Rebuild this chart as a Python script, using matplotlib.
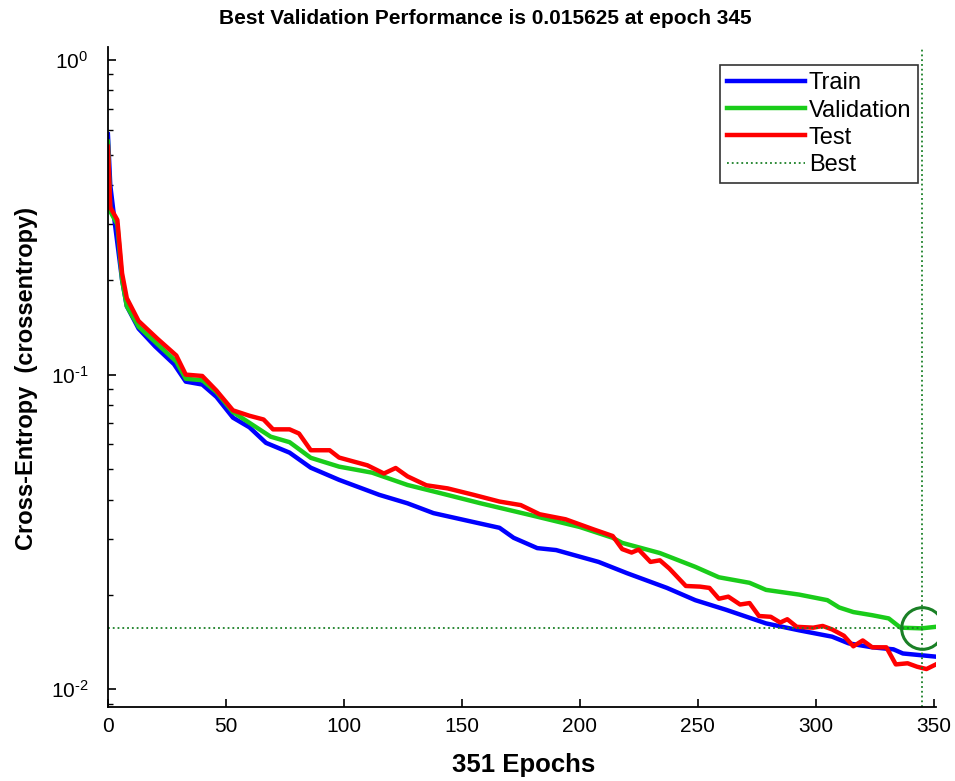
import numpy as np
import matplotlib.pyplot as plt
from matplotlib.ticker import FixedLocator, LogLocator, NullFormatter

# Datos
train_ep = [0, 1, 3, 6, 8, 13, 20, 28, 33, 40, 46, 53, 60, 67, 77, 86, 98, 115, 127, 138, 155,
            166, 172, 182, 190, 208, 220, 237, 249, 262, 279, 293, 307, 314, 324, 333, 337, 351]
train_val = [0.58, 0.40, 0.30, 0.20, 0.165, 0.140, 0.123, 0.108, 0.095, 0.093, 0.085, 0.073, 0.068,
             0.0607, 0.0565, 0.0506, 0.0463, 0.0415, 0.039, 0.0363, 0.034, 0.0326, 0.0303, 0.0281,
             0.0277, 0.0254, 0.0234, 0.021, 0.0192, 0.0179, 0.0162, 0.0154, 0.0147, 0.014, 0.0136,
             0.0134, 0.013, 0.0127]

val_ep = [0, 1, 4, 6, 8, 13, 21, 29, 33, 40, 46, 53, 56, 69, 77, 86, 98, 112, 127, 141, 158, 179,
          200, 214, 218, 234, 249, 259, 272, 279, 293, 305, 310, 316, 324, 331, 336, 345, 351]
val_val = [0.55, 0.33, 0.30, 0.20, 0.165, 0.142, 0.125, 0.110, 0.097, 0.096, 0.088, 0.076, 0.0735,
           0.0635, 0.061, 0.0544, 0.051, 0.0488, 0.0446, 0.042, 0.039, 0.0358, 0.0328, 0.0303,
           0.0292, 0.0271, 0.0245, 0.0227, 0.0218, 0.0207, 0.0200, 0.0192, 0.0182, 0.0176, 0.0172,
           0.0168, 0.0157, 0.015625, 0.0158]

test_ep = [0, 1, 4, 6, 8, 13, 21, 29, 33, 40, 46, 53, 60, 66, 70, 77, 81, 86, 94, 98, 110, 117,
           122, 127, 135, 144, 155, 166, 175, 183, 194, 206, 214, 218, 222, 225, 230, 234, 238,
           245, 251, 255, 259, 263, 268, 272, 276, 281, 285, 288, 292, 299, 303, 307, 312, 316,
           320, 324, 330, 334, 339, 343, 347, 351]
test_val = [0.53, 0.34, 0.31, 0.21, 0.175, 0.148, 0.130, 0.115, 0.100, 0.099, 0.089, 0.077, 0.074,
            0.072, 0.067, 0.067, 0.065, 0.0575, 0.0575, 0.0545, 0.0515, 0.0485, 0.0505, 0.0475,
            0.0445, 0.0435, 0.0415, 0.0395, 0.0385, 0.036, 0.0347, 0.0322, 0.0307, 0.0279, 0.0272,
            0.0278, 0.0254, 0.0257, 0.0242, 0.0213, 0.0212, 0.0210, 0.0194, 0.0197, 0.0186, 0.0188,
            0.0171, 0.0170, 0.0163, 0.0167, 0.0158, 0.0157, 0.0159, 0.0155, 0.0148, 0.0137, 0.0143,
            0.0136, 0.0136, 0.0120, 0.0121, 0.0118, 0.0116, 0.0120]

best_epoch = 345
best_perf = 0.015625
n_epochs = 351

# =============================================
#                  GRÁFICO
# =============================================
plt.rcParams['font.family'] = ['Liberation Sans', 'DejaVu Sans']
plt.rcParams['mathtext.fontset'] = 'custom'
plt.rcParams['mathtext.rm'] = 'Liberation Sans'
plt.rcParams['mathtext.default'] = 'regular'
plt.rcParams['axes.unicode_minus'] = False

fig = plt.figure(figsize=(9.55, 7.81), dpi=100)
ax = fig.add_axes([0.113, 0.095, 0.867, 0.845])

ax.plot(train_ep, train_val, color=(0, 0, 1), lw=3.2, label='Train')
ax.plot(val_ep, val_val, color=(0.1, 0.8, 0.1), lw=3.2, label='Validation')
ax.plot(test_ep, test_val, color=(1, 0, 0), lw=3.2, label='Test')

best_col = (0.1, 0.5, 0.15)
ax.axhline(best_perf, xmax=best_epoch / n_epochs, color=best_col, ls=':', lw=1.3, label='Best')
ax.axvline(best_epoch, color=best_col, ls=':', lw=1.3)
ax.plot([best_epoch], [best_perf], 'o', ms=30, mfc='none', mec=best_col, mew=2.2)

ax.set_yscale('log')
ax.set_xlim(0, n_epochs)
ax.set_ylim(0.0088, 1.1)
ax.set_xticks([0, 50, 100, 150, 200, 250, 300, 350])
ax.yaxis.set_major_locator(FixedLocator([0.01, 0.1, 1.0]))
ax.set_yticklabels([r'$10^{\text{-2}}$', r'$10^{\text{-1}}$', r'$10^{\text{0}}$'])
ax.yaxis.set_minor_locator(LogLocator(base=10, subs=np.arange(2, 10)))
ax.yaxis.set_minor_formatter(NullFormatter())

ax.tick_params(direction='in', length=6, width=1.2, labelsize=15)
ax.tick_params(axis='x', pad=7)
ax.tick_params(axis='y', pad=14)
ax.tick_params(which='minor', direction='in', length=3.5, width=1.0)
ax.spines['top'].set_visible(False)
ax.spines['right'].set_visible(False)
ax.spines['left'].set_linewidth(1.3)
ax.spines['bottom'].set_linewidth(1.3)

fig.text(0.548, 1 - 765 / 781, '351 Epochs', ha='center', va='center',
         fontsize=18.5, fontweight='bold')
fig.text(0.028, 1 - 378 / 781, 'Cross-Entropy  (crossentropy)', ha='center', va='center',
         rotation=90, fontsize=17, fontweight='bold')
fig.text(0.508, 1 - 18 / 781, 'Best Validation Performance is 0.015625 at epoch 345',
         ha='center', va='center', fontsize=15, fontweight='bold')

leg = ax.legend(loc='upper right', bbox_to_anchor=(0.993, 0.99), fontsize=17,
                frameon=True, fancybox=False, handlelength=3.3, handletextpad=0.15,
                borderpad=0.3, labelspacing=0.22)
leg.get_frame().set_edgecolor('black')
leg.get_frame().set_linewidth(1.2)

fig.savefig('out.png', dpi=100)
